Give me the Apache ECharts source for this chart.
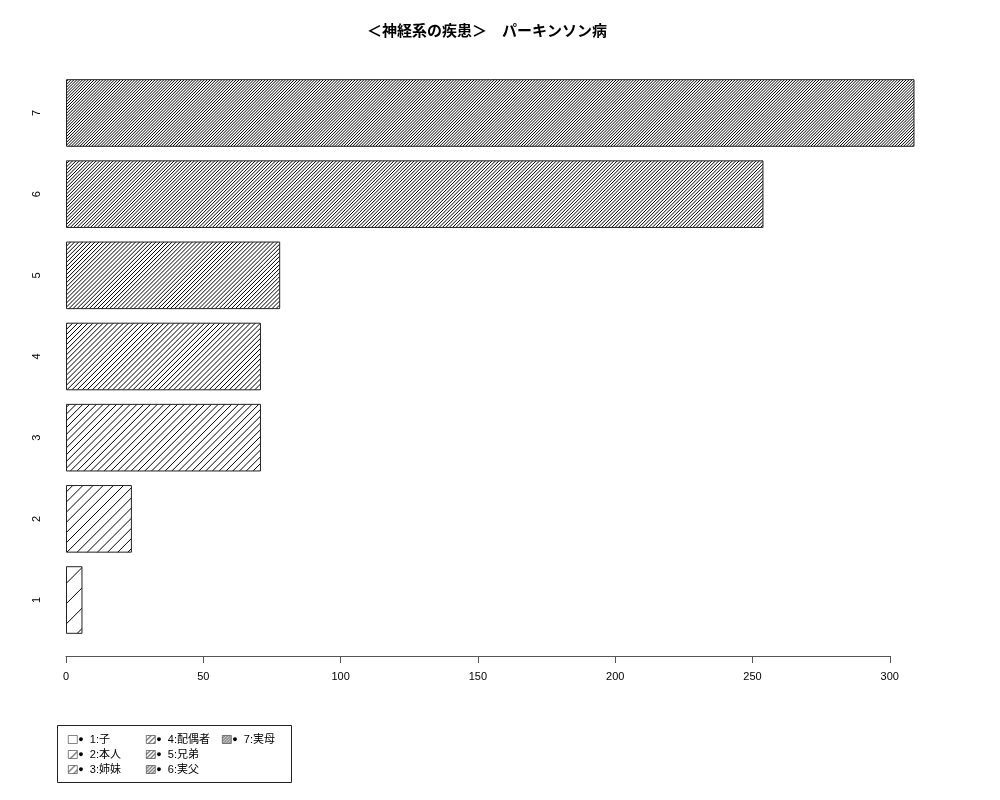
<!DOCTYPE html>
<html>
<head>
<meta charset="utf-8">
<script src="https://cdn.jsdelivr.net/npm/echarts@6/dist/echarts.min.js"></script>
<style>
  html, body { margin: 0; padding: 0; background: #fff; }
  #chart { width: 1000px; height: 800px; }
</style>
</head>
<body>
<div id="chart"></div>
<script>
// data
const categories = ['1', '2', '3', '4', '5', '6', '7'];
const values = [6, 24, 71, 71, 78, 254, 309];
const legendNames = ['1:子', '2:本人', '3:姉妹', '4:配偶者', '5:兄弟', '6:実父', '7:実母'];
const xTicks = [0, 50, 100, 150, 200, 250, 300];

const FONT = '"Liberation Sans", "Noto Sans CJK JP", sans-serif';

// hatch gets denser with each category (R style density), drawn once on a canvas
function hatchPattern(i) {
  const step = 20.3 / (i + 1);
  const W = 1000, H = 800;
  const cv = document.createElement('canvas');
  cv.width = W; cv.height = H;
  const ctx = cv.getContext('2d');
  ctx.fillStyle = '#fff';
  ctx.fillRect(0, 0, W, H);
  ctx.strokeStyle = '#000';
  ctx.lineWidth = 1;
  ctx.beginPath();
  for (let x = -H; x < W + H; x += step) {
    ctx.moveTo(x, H);
    ctx.lineTo(x + H, 0);
  }
  ctx.stroke();
  return { image: cv, repeat: 'repeat' };
}

const series = categories.map((c, i) => ({
  name: legendNames[i],
  type: 'bar',
  stack: 'all',
  xAxisIndex: 0,
  yAxisIndex: 0,
  barWidth: '83.3%',
  data: values.map((v, j) => (j === i ? v : '-')),
  itemStyle: {
    color: hatchPattern(i),
    borderColor: '#222',
    borderWidth: 1
  },
  silent: true
}));

// empty series so the lower axis grid renders
series.push({
  type: 'scatter',
  xAxisIndex: 1,
  yAxisIndex: 1,
  data: [],
  silent: true
});

function legendBlock(names, left) {
  return {
    data: names,
    orient: 'vertical',
    left: left,
    top: 729,
    itemGap: 4,
    itemWidth: 9,
    itemHeight: 8,
    icon: 'rect',
    selectedMode: false,
    itemStyle: { borderWidth: 0.6, borderColor: '#333' },
    formatter: name => '{d|●} ' + name,
    textStyle: {
      fontFamily: FONT,
      fontSize: 11,
      color: '#000',
      padding: [0, 0, 0, -4],
      rich: { d: { fontSize: 9, color: '#000', padding: [0, 3, 0, 0] } }
    }
  };
}

const option = {
  animation: false,
  title: {
    text: '＜神経系の疾患＞　パーキンソン病',
    left: 362,
    top: 19,
    textStyle: { fontFamily: FONT, fontSize: 15, fontWeight: 'bold', color: '#000' }
  },
  legend: [
    legendBlock(legendNames.slice(0, 3), 63),
    legendBlock(legendNames.slice(3, 6), 141),
    legendBlock(legendNames.slice(6), 217)
  ],
  grid: [
    { left: 66, top: 72.4, width: 878.7, height: 568.2 },
    { left: 66, top: 72.4, width: 823.8, height: 583.6 }
  ],
  xAxis: [
    {
      gridIndex: 0, type: 'value', min: 0, max: 320, show: false
    },
    {
      gridIndex: 1, type: 'value', min: 0, max: 300, interval: 50,
      axisLine: { show: true, lineStyle: { color: '#555', width: 1 } },
      axisTick: { show: true, length: 7, lineStyle: { color: '#555' } },
      splitLine: { show: false },
      axisLabel: {
        show: true, margin: 15, fontFamily: FONT, fontSize: 11, color: '#000',
        formatter: v => (xTicks.includes(v) ? String(v) : '')
      }
    }
  ],
  yAxis: [
    {
      gridIndex: 0, type: 'category', data: categories,
      axisLine: { show: false },
      axisTick: { show: false },
      splitLine: { show: false },
      axisLabel: { rotate: 90, margin: 24, fontFamily: FONT, fontSize: 11, color: '#000' }
    },
    {
      gridIndex: 1, type: 'value', show: false, min: 0, max: 1
    }
  ],
  graphic: [
    {
      type: 'rect',
      shape: { x: 57.5, y: 725.5, width: 234, height: 57 },
      style: { fill: null, stroke: '#222', lineWidth: 1 },
      silent: true
    }
  ],
  series: series
};

const chart = echarts.init(document.getElementById('chart'));
chart.setOption(option);
window.addEventListener('resize', () => chart.resize());
</script>
</body>
</html>
